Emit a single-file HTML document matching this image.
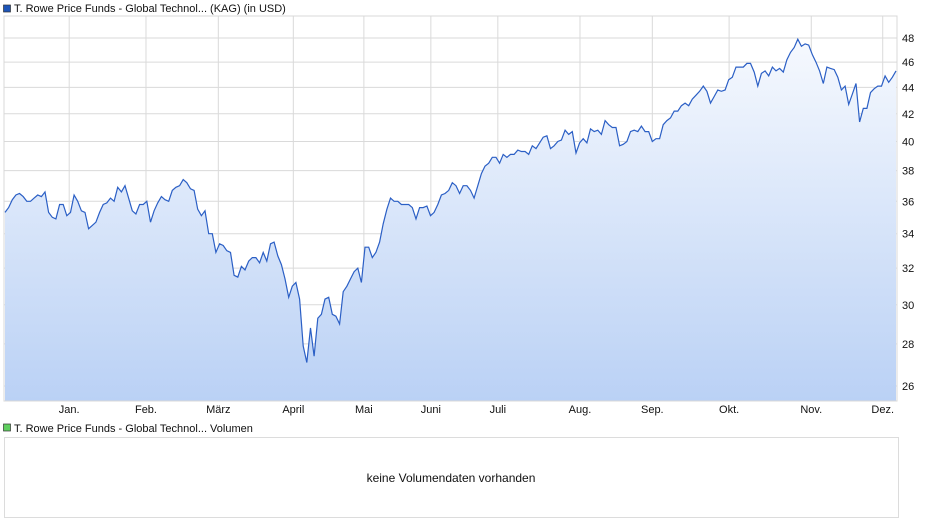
<!DOCTYPE html>
<html><head><meta charset="utf-8"><style>
body{margin:0;background:#fff;font-family:"Liberation Sans",Arial,sans-serif;}
svg{display:block}
</style></head><body>
<svg width="940" height="526" id="svg">
<defs><linearGradient id="fillg" x1="0" y1="0" x2="0" y2="1">
<stop offset="0" stop-color="#f6f9fe"/><stop offset="1" stop-color="#bad1f5"/></linearGradient></defs>
<rect x="3.5" y="5" width="7" height="7" fill="#1d55b8" stroke="#333" stroke-width="0.7"/>
<text x="14" y="12" font-size="11" fill="#111">T. Rowe Price Funds - Global Technol... (KAG) (in USD)</text>
<g id="grid"></g>
<path id="area" fill="url(#fillg)"/>
<path id="line" fill="none" stroke="#2b5fc5" stroke-width="1.2"/>
<rect x="4" y="16" width="893" height="385" fill="none" stroke="#d8d8d8"/>
<g id="axes"></g>
<rect x="3.5" y="424" width="7" height="7" fill="#5fcf5f" stroke="#333" stroke-width="0.7"/>
<text x="14" y="432" font-size="11" fill="#111">T. Rowe Price Funds - Global Technol... Volumen</text>
<rect x="4.5" y="437.5" width="894" height="80" fill="#fff" stroke="#dcdcdc"/>
<text x="451" y="482" font-size="12" fill="#111" text-anchor="middle">keine Volumendaten vorhanden</text>
</svg>
<script>
const yTicks=[26,28,30,32,34,36,38,40,42,44,46,48];
const months=["Jan.","Feb.","März","April","Mai","Juni","Juli","Aug.","Sep.","Okt.","Nov.","Dez."];
const monthPos=[0.073,0.159,0.240,0.324,0.403,0.478,0.553,0.645,0.726,0.812,0.904,0.984];
const prices=[35.3,35.6,36.1,36.4,36.5,36.3,36.0,36.0,36.2,36.4,36.3,36.6,35.3,35.0,34.9,35.8,35.8,35.1,35.3,36.4,36.0,35.4,35.3,34.3,34.5,34.7,35.3,35.8,35.9,36.2,36.0,36.9,36.6,37.0,36.2,35.4,35.2,35.8,35.8,36.0,34.7,35.4,35.9,36.3,36.1,36.0,36.7,36.9,37.0,37.4,37.2,36.8,36.7,35.5,35.1,35.4,34.0,34.0,32.9,33.4,33.3,33.0,32.9,31.6,31.5,32.1,31.9,32.4,32.6,32.6,32.3,32.9,32.4,33.4,33.5,32.7,32.2,31.4,30.4,31.0,31.2,30.3,27.9,27.1,28.8,27.4,29.3,29.5,30.3,30.4,29.5,29.4,29.0,30.7,31.0,31.4,31.8,32.0,31.2,33.2,33.2,32.6,32.9,33.5,34.6,35.5,36.2,36.0,36.0,35.8,35.8,35.8,35.6,34.9,35.6,35.6,35.7,35.1,35.3,35.8,36.4,36.5,36.7,37.2,37.0,36.5,37.0,37.0,36.7,36.2,37.0,37.8,38.3,38.5,38.9,38.9,38.5,39.1,38.9,39.1,39.1,39.4,39.3,39.3,39.1,39.7,39.5,39.9,40.3,40.4,39.5,39.7,40.0,40.1,40.8,40.5,40.7,39.2,39.9,40.2,39.9,40.9,40.7,40.8,40.5,41.5,41.2,41.0,41.0,39.7,39.8,40.0,40.7,40.8,40.7,41.1,40.7,40.7,40.0,40.2,40.2,41.2,41.5,41.7,42.2,42.2,42.6,42.8,42.6,43.1,43.4,43.7,44.1,43.7,42.8,43.3,43.8,43.7,43.8,44.6,44.8,45.6,45.6,45.6,45.9,45.9,45.2,44.1,45.1,45.3,44.9,45.6,45.3,45.5,45.2,46.2,46.8,47.2,47.9,47.3,47.5,47.4,46.6,46.0,45.3,44.3,45.6,45.5,45.4,44.8,43.8,44.1,42.7,43.5,44.3,41.4,42.4,42.4,43.6,43.9,44.1,44.1,44.9,44.4,44.8,45.3];
const X0=4,X1=897,Y0=16,Y1=401;
function ys(v){return 38+(Math.log(48)-Math.log(v))*567.6;}
function xs(i){return X0+1+i*(X1-X0-2)/(prices.length-1);}
function xm(f){return X0+f*(X1-X0);}
const NS="http://www.w3.org/2000/svg";
const grid=document.getElementById('grid'),axes=document.getElementById('axes');
yTicks.forEach(t=>{
 const y=ys(t);
 const l=document.createElementNS(NS,'line');
 
 
 l.setAttribute('x1',X0);l.setAttribute('x2',X1);l.setAttribute('y1',y);l.setAttribute('y2',y);
 l.setAttribute('stroke','#dadada');grid.appendChild(l);
 const tx=document.createElementNS(NS,'text');
 
 
 tx.setAttribute('x',902);tx.setAttribute('y',y+4);tx.setAttribute('font-size','11');tx.setAttribute('fill','#111');
 tx.textContent=t;axes.appendChild(tx);
});
months.forEach((m,i)=>{
 const x=xm(monthPos[i]);
 const l=document.createElementNS(NS,'line');
 
 
 l.setAttribute('x1',x);l.setAttribute('x2',x);l.setAttribute('y1',Y0);l.setAttribute('y2',Y1);
 l.setAttribute('stroke','#dadada');grid.appendChild(l);
 const tx=document.createElementNS(NS,'text');
 
 
 tx.setAttribute('x',x);tx.setAttribute('y',413);tx.setAttribute('font-size','11');tx.setAttribute('fill','#111');tx.setAttribute('text-anchor','middle');
 tx.textContent=m;axes.appendChild(tx);
});
let d='';prices.forEach((v,i)=>{d+=(i?'L':'M')+xs(i).toFixed(1)+','+ys(v).toFixed(1);});
document.getElementById('line').setAttribute('d',d);
document.getElementById('area').setAttribute('d',d+'L'+xs(prices.length-1)+','+Y1+'L'+xs(0)+','+Y1+'Z');
</script>
</body></html>
